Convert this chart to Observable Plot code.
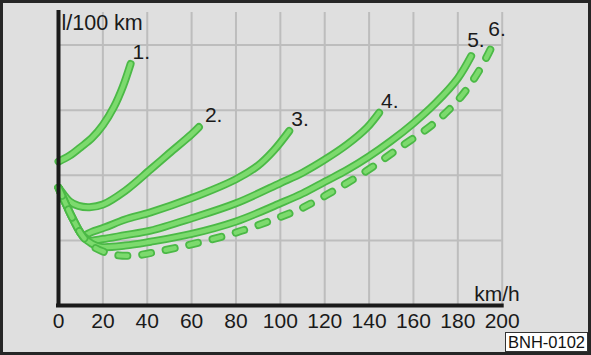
<!DOCTYPE html>
<html><head><meta charset="utf-8">
<script src="https://cdn.jsdelivr.net/npm/d3@7"></script>
<script src="https://cdn.jsdelivr.net/npm/@observablehq/plot@0.6"></script>
<style>
html,body{margin:0;padding:0;background:#dfdfdf;}
#wrap{position:relative;width:591px;height:355px;background:#dfdfdf;overflow:hidden;font-family:"Liberation Sans",Arial,sans-serif;}
#wrap svg{position:absolute;left:0;top:0;}
#frame{position:absolute;left:0;top:0;width:591px;height:355px;box-sizing:border-box;border:3px solid #262626;pointer-events:none;}
#code{position:absolute;left:505px;top:332px;width:83px;height:20px;box-sizing:border-box;background:#fff;border:1px solid #333;font-size:16.5px;line-height:18px;text-align:center;color:#111;}
</style></head><body>
<div id="wrap"><div id="frame"></div><div id="code">BNH-0102</div></div>
<script>
// x: speed (km/h), y: consumption (grid units)
const xTicks = [0, 20, 40, 60, 80, 100, 120, 140, 160, 180, 200];
const yGrid = [1, 2, 3, 4];
const gearNames = ["1.", "2.", "3.", "4.", "5.", "6."];

const speed1 = [0, 5, 10, 15, 20, 25, 29, 32.5];
const cons1  = [2.21, 2.30, 2.43, 2.57, 2.77, 3.05, 3.36, 3.71];

const speed2 = [0, 2, 5, 9, 14, 20, 30, 41.5, 50, 60, 63.3];
const cons2  = [1.81, 1.72, 1.60, 1.53, 1.51, 1.55, 1.76, 2.09, 2.34, 2.63, 2.74];

const speed3 = [0, 3, 6.5, 11, 15, 21, 30, 41.5, 60, 80, 90, 97, 104];
const cons3  = [1.81, 1.58, 1.33, 1.08, 1.13, 1.20, 1.32, 1.43, 1.65, 1.94, 2.15, 2.38, 2.68];

const speed4 = [0, 3, 6.5, 11, 14, 20, 30, 41.5, 60, 80, 100, 110, 120, 130, 139, 144.5];
const cons4  = [1.81, 1.58, 1.33, 1.07, 1.00, 1.02, 1.08, 1.15, 1.34, 1.57, 1.88, 2.04, 2.24, 2.47, 2.73, 2.96];

const speed5 = [0, 3, 6.5, 11, 15, 19, 30, 41.5, 60, 80, 100, 110, 120, 130, 140, 150, 160, 170, 180, 186];
const cons5  = [1.81, 1.58, 1.33, 1.06, 0.95, 0.90, 0.92, 0.98, 1.10, 1.29, 1.57, 1.72, 1.90, 2.08, 2.29, 2.53, 2.80, 3.11, 3.49, 3.83];

const speed6 = [0, 3, 6.5, 11, 15, 20, 27, 35, 45, 60, 80, 100, 110, 124, 139, 154, 169, 181, 190, 195.5];
const cons6  = [1.81, 1.58, 1.33, 1.06, 0.92, 0.83, 0.77, 0.77, 0.83, 0.94, 1.12, 1.36, 1.50, 1.76, 2.07, 2.43, 2.79, 3.19, 3.63, 3.99];

const series = [[speed1, cons1], [speed2, cons2], [speed3, cons3], [speed4, cons4], [speed5, cons5], [speed6, cons6]];
const rows = series.flatMap(([xs, ys], i) => xs.map((x, j) => ({gear: gearNames[i], speed: x, cons: ys[j]})));
const ends = series.map(([xs, ys], i) => ({gear: gearNames[i], speed: xs[xs.length - 1], cons: ys[ys.length - 1]}));

const outer = "#4bb946", inner = "#7cda6d", ink = "#1a1a1a", grid = "#bdbdbd";

const marks = [
  Plot.ruleX(xTicks.slice(1), {stroke: grid, strokeWidth: 2}),
  Plot.ruleY(yGrid, {stroke: grid, strokeWidth: 2})
];
gearNames.forEach((g, i) => {
  const d = rows.filter(r => r.gear === g);
  const dash = i === 5 ? "9,15" : null;
  marks.push(Plot.line(d, {x: "speed", y: "cons", curve: "catmull-rom", stroke: outer, strokeWidth: 8,
    strokeLinecap: "round", strokeLinejoin: "round", strokeDasharray: dash}));
  marks.push(Plot.line(d, {x: "speed", y: "cons", curve: "catmull-rom", stroke: inner, strokeWidth: 4.5,
    strokeLinecap: "round", strokeLinejoin: "round", strokeDasharray: dash}));
});
marks.push(
  Plot.ruleX([0], {stroke: ink, strokeWidth: 4, insetTop: -2, insetBottom: -2}),
  Plot.ruleY([0], {stroke: ink, strokeWidth: 4, insetLeft: -2, insetRight: -2}),
  Plot.text(ends.filter(e => ["1.", "3.", "4."].includes(e.gear)), {x: "speed", y: "cons", text: "gear", textAnchor: "start", dx: 2, dy: -12, fontSize: 21, fill: ink}),
  Plot.text(ends.filter(e => e.gear === "2."), {x: "speed", y: "cons", text: "gear", textAnchor: "start", dx: 6, dy: -12, fontSize: 21, fill: ink}),
  Plot.text(ends.filter(e => ["5.", "6."].includes(e.gear)), {x: "speed", y: "cons", text: "gear", textAnchor: "start", dx: -4, dy: -16, fontSize: 21, fill: ink}),
  Plot.text(["l/100 km"], {frameAnchor: "top-left", textAnchor: "start", lineAnchor: "top", dx: 3, dy: 2, fontSize: 21.5, fill: ink}),
  Plot.text(["km/h"], {frameAnchor: "bottom-right", textAnchor: "end", lineAnchor: "bottom", dx: 17.5, dy: -5, fontSize: 21, fill: ink})
);

const chart = Plot.plot({
  width: 591,
  height: 355,
  marginLeft: 58,
  marginRight: 89.3,
  marginTop: 12,
  marginBottom: 50,
  style: {background: "transparent", fontFamily: "Liberation Sans, Arial, sans-serif", fontSize: "21px", color: ink, overflow: "visible"},
  x: {domain: [0, 200], ticks: xTicks, tickSize: 0, tickPadding: 8, label: null},
  y: {domain: [0, 4.5], axis: null},
  marks
});
const wrap = document.getElementById("wrap");
wrap.insertBefore(chart, wrap.firstChild);
</script>
</body></html>
